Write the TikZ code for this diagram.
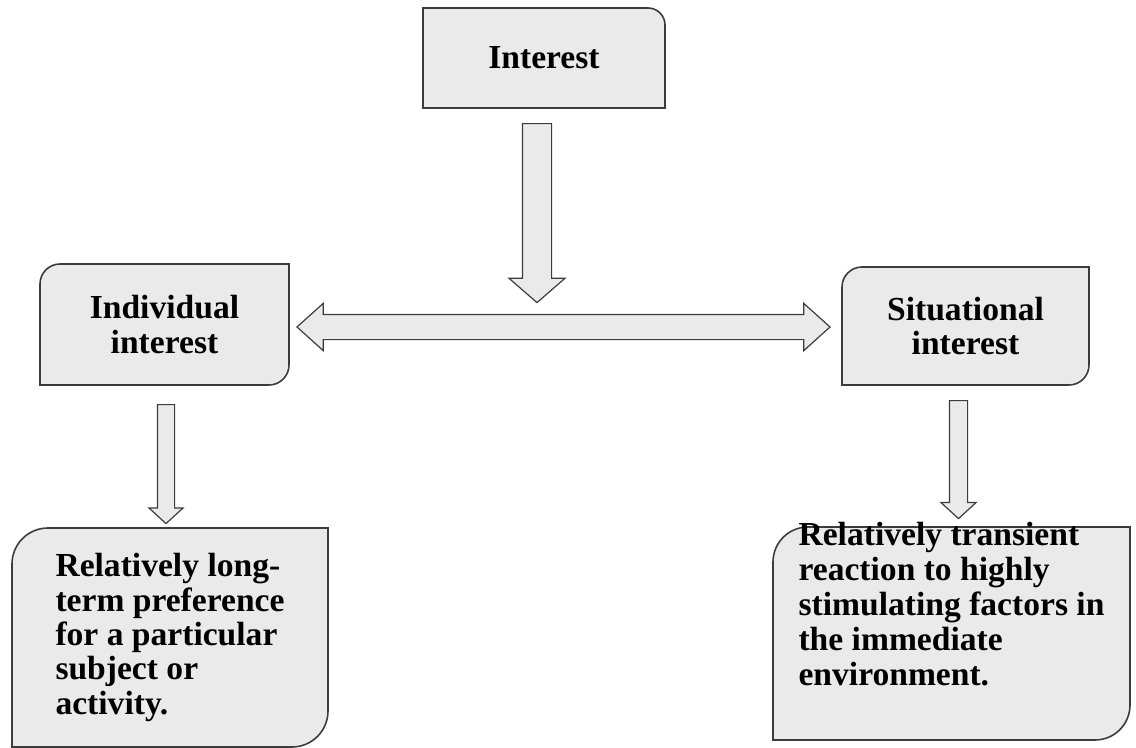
\documentclass[tikz,border=0pt]{standalone}
\usepackage{fontspec}
\setmainfont{Liberation Serif}
\usepackage{tikz}
\usetikzlibrary{shapes.arrows,backgrounds}
\definecolor{boxfill}{HTML}{EAEAEA}
\definecolor{edge}{HTML}{3C3C3C}
% outline with the top left and bottom right corners rounded
\newcommand{\diagcorners}[2]{%
  \draw[boxline] ([yshift=-#2]#1.north west) arc[start angle=180,end angle=90,radius=#2]
    -- (#1.north east) -- ([yshift=#2]#1.south east) arc[start angle=0,end angle=-90,radius=#2]
    -- (#1.south west) -- cycle;}

\begin{document}
\begin{tikzpicture}[x=1bp,y=1bp,every node/.style={font=\bfseries\fontsize{33.7}{34.5}\selectfont},
  boxline/.style={draw=edge,line width=1.6bp,fill=boxfill},
  box/.style={inner sep=0pt,outer sep=0pt,align=center},
  dnarrow/.style={single arrow,draw=edge,fill=boxfill,line width=1.2bp,rotate=-90,anchor=tail,inner xsep=0pt}]
\useasboundingbox (0,0) rectangle (1136,-748);
\node[box,minimum width=242bp,minimum height=100bp] (interest) at (544,-58) {Interest};
\node[box,minimum width=249bp,minimum height=121bp] (individual) at (164.5,-324.5) {Individual\\interest};
\node[box,minimum width=247bp,minimum height=118bp] (situational) at (965.5,-326) {Situational\\interest};
\node[box,align=left,minimum width=316bp,minimum height=219bp] (longterm) at (170,-637.5) {Relatively long-\\term preference\\for a particular\\subject or\\activity.};
\node[box,align=left,minimum width=357bp,minimum height=213bp,text height=103bp,text depth=0bp,font=\bfseries\fontsize{33.7}{35}\selectfont] (transient) at (951.5,-633.5) {Relatively transient\\reaction to highly\\stimulating factors in\\the immediate\\environment.};
\node[dnarrow,inner ysep=14bp,single arrow head extend=13.5bp,single arrow tip angle=98,minimum height=179bp] (down) at (537,-123) {};
\node[double arrow,draw=edge,fill=boxfill,line width=1.2bp,inner xsep=0pt,inner ysep=12bp,double arrow head extend=11bp,double arrow tip angle=84,minimum height=533bp] (link) at (563.5,-327) {};
\node[dnarrow,inner ysep=8bp,single arrow head extend=8.5bp,single arrow tip angle=95,minimum height=119bp] (downleft) at (166,-404) {};
\node[dnarrow,inner ysep=8.5bp,single arrow head extend=8.5bp,single arrow tip angle=95,minimum height=118bp] (downright) at (958.5,-400) {};
\begin{scope}[on background layer]
\draw[boxline] ([xshift=-17bp]interest.north east) arc[start angle=90,end angle=0,radius=17bp]
  -- (interest.south east) -- (interest.south west) -- (interest.north west) -- cycle;
\diagcorners{individual}{20bp}
\diagcorners{situational}{20bp}
\diagcorners{longterm}{36bp}
\diagcorners{transient}{35bp}
\end{scope}
\end{tikzpicture}
\end{document}
